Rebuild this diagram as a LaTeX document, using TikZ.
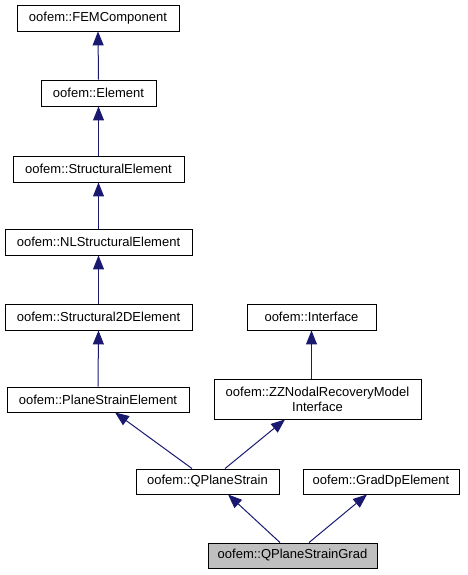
\documentclass[tikz,border=0pt]{standalone}
\usepackage{fontspec}
\setmainfont{Liberation Sans}
\usetikzlibrary{arrows.meta}
\definecolor{edgecol}{HTML}{191970}
\definecolor{gradfill}{HTML}{BFBFBF}
\begin{document}
\begin{tikzpicture}[x=1pt,y=1pt,
  cls/.style={draw=black,line width=0.9pt,fill=white,inner sep=0pt,align=center,
    font=\fontsize{13}{15}\selectfont},
  inh/.style={draw=edgecol,line width=1pt,-{Triangle[length=14pt,width=11pt,fill=edgecol]}}]
\useasboundingbox (0,0) rectangle (467,-575);
\node[cls,minimum width=162,minimum height=26] (fem) at (98,-18) {oofem::FEMComponent};
\node[cls,minimum width=115,minimum height=26] (elem) at (98.5,-93) {oofem::Element};
\node[cls,minimum width=171,minimum height=26] (struct) at (98.5,-169) {oofem::StructuralElement};
\node[cls,minimum width=187,minimum height=26] (nl) at (98.5,-242) {oofem::NLStructuralElement};
\node[cls,minimum width=187,minimum height=26] (s2d) at (98.5,-317) {oofem::Structural2DElement};
\node[cls,minimum width=182,minimum height=25] (pse) at (98,-399.5) {oofem::PlaneStrainElement};
\node[cls,minimum width=129,minimum height=26] (iface) at (311.5,-317) {oofem::Interface};
\node[cls,minimum width=207,minimum height=40] (zz) at (317.5,-399) {oofem::ZZNodalRecoveryModel\\Interface};
\node[cls,minimum width=143,minimum height=25] (qps) at (207.5,-481.5) {oofem::QPlaneStrain};
\node[cls,minimum width=156,minimum height=25] (gdp) at (381,-481.5) {oofem::GradDpElement};
\node[cls,fill=gradfill,minimum width=169,minimum height=25] (grad) at (292.5,-555.5) {oofem::QPlaneStrainGrad};
\draw[inh] (elem.north) -- (fem.south);
\draw[inh] (struct.north) -- (elem.south);
\draw[inh] (nl.north) -- (struct.south);
\draw[inh] (s2d.north) -- (nl.south);
\draw[inh] (pse.north) -- (s2d.south);
\draw[inh] (zz.north -| iface.south) -- (iface.south);
\draw[inh] ([xshift=-15.5]qps.north) -- ([xshift=17]pse.south);
\draw[inh] ([xshift=17.5]qps.north) -- ([xshift=-32.5]zz.south);
\draw[inh] ([xshift=-12.5]grad.north) -- ([xshift=20.5]qps.south);
\draw[inh] ([xshift=16.5]grad.north) -- ([xshift=-14]gdp.south);
\end{tikzpicture}
\end{document}
